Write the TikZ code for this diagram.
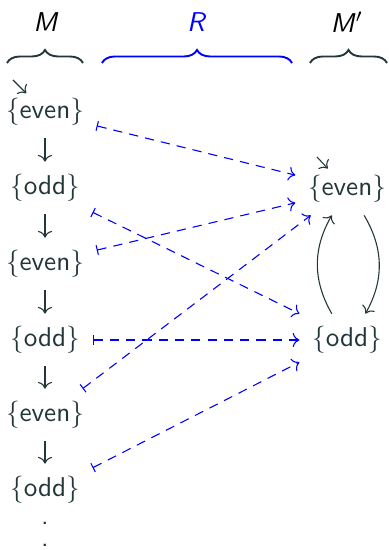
\documentclass[tikz,border=0pt]{standalone}
\usepackage{tikz}
\usetikzlibrary{arrows.meta,decorations.pathreplacing}
\definecolor{pizarra}{HTML}{23373B}
\definecolor{azulrel}{HTML}{0000FF}

\begin{document}
\begin{tikzpicture}[x=0.368pt, y=0.368pt, font=\sffamily,
  estado/.style={text=pizarra, inner sep=4.5pt},
  paso/.style={pizarra, -{Computer Modern Rightarrow}},
  rel/.style={azulrel, dash pattern=on 3.4pt off 2.6pt, {Bar[width=3.6pt]}-{Computer Modern Rightarrow}},
  llave/.style={decorate, decoration={brace, amplitude=4.8pt}, line width=0.7pt}]
  \useasboundingbox (0,0) rectangle (388,-550);
  % cabeceras y llaves
  \node (hM) at (46,-22) {\textit{M}};
  \node[azulrel] (hR) at (197,-22) {\textit{R}};
  \node (hMp) at (347,-22) {\textit{M}$'$};
  \draw[llave, pizarra] (7,-63) -- (83,-63);
  \draw[llave, azulrel] (102,-63) -- (292,-63);
  \draw[llave, pizarra] (310,-63) -- (387,-63);
  % modelo M: cadena infinita
  \foreach \n/\txt/\y in {e1/even/112, o1/odd/188, e2/even/264, o2/odd/340, e3/even/415, o3/odd/490}
    \node[estado] (\n) at (45,-\y) {$\{$\txt$\}$};
  \node[text=pizarra] (pts) at (45,-545) {\vbox{\baselineskip=8pt\lineskiplimit=0pt\hbox{.}\hbox{.}\hbox{.}}};
  \foreach \a/\b in {e1/o1, o1/e2, e2/o2, o2/e3, e3/o3}
    \draw[paso] (\a) -- (\b);
  % modelo M': dos estados
  \node[estado] (re) at (347,-189) {$\{$even$\}$};
  \node[estado] (ro) at (347,-340) {$\{$odd$\}$};
  \draw[paso] (re.-57) to[bend left] (ro.55);
  \draw[paso] (ro.120) to[bend left] (re.-120);
  % estados iniciales
  \coordinate (i1) at (13,-80);
  \coordinate (i2) at (317,-157);
  \draw[paso, shorten >=-4pt] (i1) -- (e1);
  \draw[paso, shorten >=-3pt] (i2) -- (re);
  % relacion R
  \draw[rel] (e1.-15) -- (re.165);
  \draw[rel] (o1.-27) -- (ro.north west);
  \draw[rel] (e2.15) -- (re.-165);
  \draw[rel] (o2.east) -- (ro.west);
  \draw[rel] (e3.35) -- (re.-144);
  \draw[rel] (o3.25) -- (ro.-155);
\end{tikzpicture}
\end{document}
